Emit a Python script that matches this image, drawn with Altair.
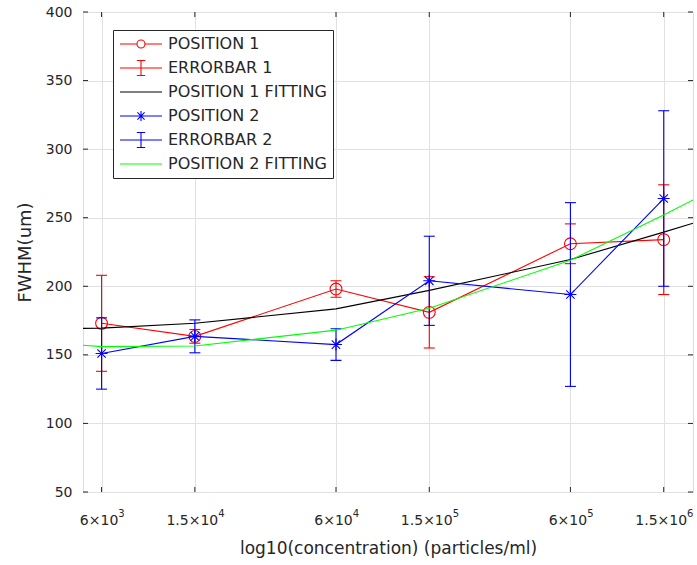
import altair as alt
import pandas as pd

# ---- data ----
conc = [6e3, 1.5e4, 6e4, 1.5e5, 6e5, 1.5e6]
pos1 = [173.0, 163.5, 198.0, 181.0, 231.0, 234.0]
err1 = [35.0, 5.0, 6.0, 26.0, 14.5, 40.0]
pos2 = [151.0, 163.5, 157.5, 204.0, 194.0, 264.0]
err2 = [26.0, 12.0, 11.5, 32.5, 67.0, 64.0]

fit_x = [5e3, 6e3, 1.5e4, 6e4, 1.5e5, 6e5, 1.5e6, 2e6]
fit1 = [169.3, 169.5, 173.0, 183.5, 197.0, 219.5, 239.5, 246.0]
fit2 = [157.0, 156.0, 156.5, 168.0, 184.0, 219.0, 252.0, 263.0]

tick_vals = [6e3, 1.5e4, 6e4, 1.5e5, 6e5, 1.5e6]
tick_base = ["6×10", "1.5×10", "6×10", "1.5×10", "6×10", "1.5×10"]
tick_exp = ["3", "4", "4", "5", "5", "6"]
y_ticks = [50, 100, 150, 200, 250, 300, 350, 400]

legend_names = ["POSITION 1", "ERRORBAR 1", "POSITION 1 FITTING",
                "POSITION 2", "ERRORBAR 2", "POSITION 2 FITTING"]
legend_colors = ["#ff0000", "#ff0000", "#000000", "#0000ff", "#0000ff", "#00ff00"]
legend_shapes = [
    "M-1,0H-0.19M0.19,0H1M0.19,0A0.19,0.19 0 1,1 -0.19,0A0.19,0.19 0 1,1 0.19,0",
    "M-1,0H1M0,-0.36V0.36M-0.2,-0.36H0.2M-0.2,0.36H0.2",
    "M-1,0H1",
    "M-1,0H1M0,-0.24V0.24M-0.17,-0.17L0.17,0.17M-0.17,0.17L0.17,-0.17",
    "M-1,0H1M0,-0.36V0.36M-0.2,-0.36H0.2M-0.2,0.36H0.2",
    "M-1,0H1",
]

FONT = "DejaVu Sans"
TXT = "#262626"
W, H = 610, 480
LFS = 14      # tick label font size
EFS = 10      # exponent font size
SHIFT = -3    # shift of base tick labels so base+exponent is centred

df1 = pd.DataFrame({"c": conc, "v": pos1, "lo": [a - b for a, b in zip(pos1, err1)],
                    "hi": [a + b for a, b in zip(pos1, err1)]})
df2 = pd.DataFrame({"c": conc, "v": pos2, "lo": [a - b for a, b in zip(pos2, err2)],
                    "hi": [a + b for a, b in zip(pos2, err2)]})
dfit1 = pd.DataFrame({"c": fit_x, "v": fit1})
dfit2 = pd.DataFrame({"c": fit_x, "v": fit2})
dleg = pd.DataFrame({"series": legend_names})
dxt = pd.DataFrame({"t": tick_vals, "base": tick_base, "exp": tick_exp})
dyt = pd.DataFrame({"t": y_ticks})

label_expr = " : ".join(
    f"datum.value == {v} ? '{t}'" for v, t in zip(tick_vals, tick_base)
) + " : ''"

xscale = alt.Scale(type="log", domain=[5e3, 2e6], nice=False)
yscale = alt.Scale(domain=[50, 400], nice=False)

xaxis = alt.Axis(values=tick_vals, labelExpr=label_expr, title="log10(concentration) (particles/ml)",
                 grid=True, gridColor="#e1e1e1", ticks=False, domain=False,
                 labelFont=FONT, labelFontSize=LFS, labelColor=TXT, labelPadding=21,
                 labelOffset=SHIFT, labelFlush=False, labelOverlap=False,
                 titleFont=FONT, titleFontSize=17, titleFontWeight="normal", titleColor=TXT,
                 titlePadding=13)
yaxis = alt.Axis(values=y_ticks, title="FWHM(um)", grid=True, gridColor="#e1e1e1",
                 ticks=False, domain=False, labelFont=FONT, labelFontSize=LFS, labelColor=TXT,
                 labelPadding=11, titleFont=FONT, titleFontSize=18, titleFontWeight="normal",
                 titleColor=TXT, titlePadding=11)

X = alt.X("c:Q", scale=xscale, axis=xaxis)
Y = alt.Y("v:Q", scale=yscale, axis=yaxis)
Xn = alt.X("c:Q", scale=xscale)
Yn = alt.Y("v:Q", scale=yscale)

LW = 1.1

red_line = alt.Chart(df1).mark_line(color="#ff0000", strokeWidth=LW).encode(x=X, y=Y)
red_pts = alt.Chart(df1).mark_point(shape="circle", filled=False, color="#ff0000",
                                    size=140, strokeWidth=LW, opacity=1).encode(x=Xn, y=Yn)
red_err = alt.Chart(df1).mark_rule(color="#ff0000", strokeWidth=LW).encode(
    x=Xn, y=alt.Y("lo:Q", scale=yscale), y2="hi:Q")
red_cap_lo = alt.Chart(df1).mark_tick(orient="horizontal", color="#ff0000", size=11,
                                      thickness=LW, opacity=1).encode(x=Xn, y=alt.Y("lo:Q", scale=yscale))
red_cap_hi = alt.Chart(df1).mark_tick(orient="horizontal", color="#ff0000", size=11,
                                      thickness=LW, opacity=1).encode(x=Xn, y=alt.Y("hi:Q", scale=yscale))
black_fit = alt.Chart(dfit1).mark_line(color="#000000", strokeWidth=LW, clip=True).encode(x=Xn, y=Yn)

blue_line = alt.Chart(df2).mark_line(color="#0000ff", strokeWidth=LW).encode(x=Xn, y=Yn)
blue_pts = alt.Chart(df2).mark_point(
    shape="M-1,0H1M0,-1V1M-0.7,-0.7L0.7,0.7M-0.7,0.7L0.7,-0.7",
    filled=False, color="#0000ff", size=144, strokeWidth=LW, opacity=1).encode(x=Xn, y=Yn)
blue_err = alt.Chart(df2).mark_rule(color="#0000ff", strokeWidth=LW).encode(
    x=Xn, y=alt.Y("lo:Q", scale=yscale), y2="hi:Q")
blue_cap_lo = alt.Chart(df2).mark_tick(orient="horizontal", color="#0000ff", size=11,
                                       thickness=LW, opacity=1).encode(x=Xn, y=alt.Y("lo:Q", scale=yscale))
blue_cap_hi = alt.Chart(df2).mark_tick(orient="horizontal", color="#0000ff", size=11,
                                       thickness=LW, opacity=1).encode(x=Xn, y=alt.Y("hi:Q", scale=yscale))
green_fit = alt.Chart(dfit2).mark_line(color="#00ff00", strokeWidth=LW, clip=True).encode(x=Xn, y=Yn)

legend_layer = alt.Chart(dleg).transform_filter("false").mark_point(filled=False).encode(
    x=alt.value(0), y=alt.value(0),
    color=alt.Color("series:N", scale=alt.Scale(domain=legend_names, range=legend_colors),
                    legend=alt.Legend(title=None, orient="none", legendX=30, legendY=18,
                                      strokeColor=TXT, fillColor="white", padding=6,
                                      labelFont=FONT, labelFontSize=16, labelColor=TXT,
                                      labelLimit=400, labelOffset=5, rowPadding=8,
                                      clipHeight=16,
                                      symbolSize=1764, symbolStrokeWidth=LW,
                                      symbolFillColor="transparent", symbolOpacity=1,
                                      cornerRadius=0)),
    shape=alt.Shape("series:N", scale=alt.Scale(domain=legend_names, range=legend_shapes)),
)

# superscript exponents of the x tick labels
def base_width(s):
    w = {"6": 0.636, "1": 0.636, "0": 0.636, "5": 0.636, ".": 0.318, "×": 0.838}
    return sum(w[ch] for ch in s) * LFS

exp_layers = []
for base in sorted(set(tick_base)):
    dx = base_width(base) / 2 + SHIFT + 0.5
    exp_layers.append(
        alt.Chart(dxt).transform_filter(alt.datum.base == base)
        .mark_text(align="left", baseline="middle", font=FONT, fontSize=EFS, color=TXT,
                   dx=dx, dy=0)
        .encode(x=alt.X("t:Q", scale=xscale), y=alt.value(H + 22), text="exp:N")
    )

TK = 5
tick_bottom = alt.Chart(dxt).mark_rule(color=TXT, strokeWidth=1).encode(
    x=alt.X("t:Q", scale=xscale), y=alt.value(H), y2=alt.value(H - TK))
tick_top = alt.Chart(dxt).mark_rule(color=TXT, strokeWidth=1).encode(
    x=alt.X("t:Q", scale=xscale), y=alt.value(0), y2=alt.value(TK))
tick_left = alt.Chart(dyt).mark_rule(color=TXT, strokeWidth=1).encode(
    y=alt.Y("t:Q", scale=yscale), x=alt.value(0), x2=alt.value(TK))
tick_right = alt.Chart(dyt).mark_rule(color=TXT, strokeWidth=1).encode(
    y=alt.Y("t:Q", scale=yscale), x=alt.value(W), x2=alt.value(W - TK))

chart = alt.layer(
    red_line, red_pts, red_err, red_cap_lo, red_cap_hi, black_fit,
    blue_line, blue_pts, blue_err, blue_cap_lo, blue_cap_hi, green_fit,
    tick_bottom, tick_top, tick_left, tick_right, *exp_layers, legend_layer,
).properties(
    width=W, height=H,
    autosize=alt.AutoSizeParams(type="none"),
    padding={"left": 83, "top": 12, "right": 4, "bottom": 73},
).configure_view(stroke=TXT, strokeWidth=1.2).configure(background="white")

chart.save("out.html", embed_options={"renderer": "svg", "actions": False})
